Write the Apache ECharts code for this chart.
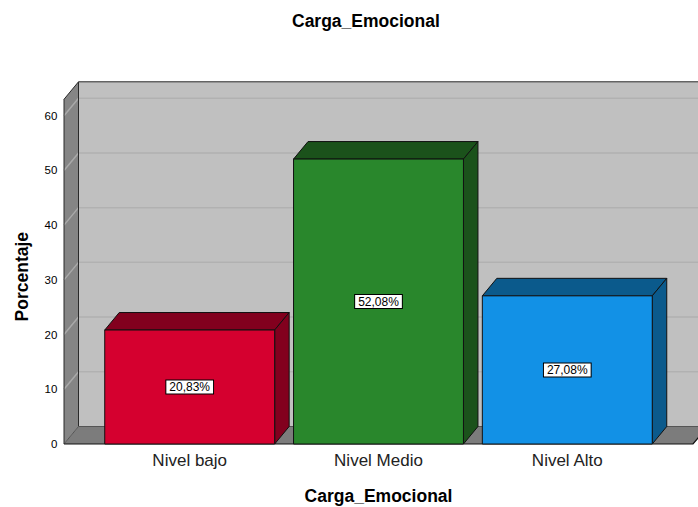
<!DOCTYPE html>
<html>
<head>
<meta charset="utf-8">
<script src="https://cdn.jsdelivr.net/npm/echarts@6/dist/echarts.min.js"></script>
<style>
  html, body { margin: 0; padding: 0; background: #fff; }
  #chart { width: 698px; height: 507px; }
</style>
</head>
<body>
<div id="chart"></div>
<script>
// ---- data ----
var categories = ['Nivel bajo', 'Nivel Medio', 'Nivel Alto'];
var percentages = [20.83, 52.08, 27.08];
var yTicks = [0, 10, 20, 30, 40, 50, 60];
var chartTitle = 'Carga_Emocional';
var xAxisName = 'Carga_Emocional';
var yAxisName = 'Porcentaje';

// ---- styles ----
var FONT = '"Liberation Sans", Arial, sans-serif';
var frontColors = ['#d5002f', '#29872c', '#1291e6'];
var darkColors = ['#82001e', '#1b521b', '#0b5a8c'];
var DX = 14.5, DY = -17.5;   // 3D depth offset (px)
var WALL_PAD = 31.3;         // floor extension beyond the category band (px)
var BAR_RATIO = 0.9;

function fmt(v) { return v.toFixed(2).replace('.', ',') + '%'; }

function renderWalls(params, api) {
  var cs = params.coordSys;
  var fl = cs.x - WALL_PAD, fr = cs.x + cs.width + WALL_PAD;
  var gt = cs.y, gb = cs.y + cs.height;
  var children = [];
  // back wall
  children.push({ type: 'polygon', shape: { points: [[fl + DX, gt + DY], [fr + DX, gt + DY], [fr + DX, gb + DY], [fl + DX, gb + DY]] },
    style: { fill: '#c0c0c0', stroke: 'none' } });
  // left wall
  children.push({ type: 'polygon', shape: { points: [[fl, gt], [fl + DX, gt + DY], [fl + DX, gb + DY], [fl, gb]] },
    style: { fill: '#858585', stroke: 'none' } });
  // grid lines
  for (var i = 0; i < yTicks.length; i++) {
    var y = api.coord([0, yTicks[i]])[1];
    if (yTicks[i] > 0) {
      children.push({ type: 'line', shape: { x1: fl + DX, y1: y + DY, x2: fr + DX, y2: y + DY },
        style: { stroke: '#b1b1b1', lineWidth: 1.5, fill: 'none' } });
      children.push({ type: 'line', shape: { x1: fl, y1: y, x2: fl + DX, y2: y + DY },
        style: { stroke: '#a9a9a9', lineWidth: 1.5, fill: 'none' } });
    }
  }
  // floor
  children.push({ type: 'polygon', shape: { points: [[fl, gb], [fl + DX, gb + DY], [fr + DX, gb + DY], [fr, gb]] },
    style: { fill: '#7c7c7c', stroke: 'none' } });
  // edges
  var edge = { stroke: '#2a2a2a', lineWidth: 1, fill: 'none' };
  children.push({ type: 'polyline', shape: { points: [[fl, gb], [fl, gt], [fl + DX, gt + DY], [fr + DX, gt + DY]] }, style: edge });
  children.push({ type: 'line', shape: { x1: fl + DX, y1: gt + DY, x2: fl + DX, y2: gb + DY }, style: edge });
  children.push({ type: 'line', shape: { x1: fl + DX, y1: gb + DY, x2: fr + DX, y2: gb + DY }, style: { stroke: '#555', lineWidth: 1, fill: 'none' } });
  children.push({ type: 'line', shape: { x1: fl, y1: gb, x2: fl + DX, y2: gb + DY }, style: { stroke: '#555', lineWidth: 1, fill: 'none' } });
  children.push({ type: 'polyline', shape: { points: [[fl, gb], [fr, gb], [fr + DX, gb + DY]] }, style: { stroke: '#111', lineWidth: 1.2, fill: 'none' } });
  return { type: 'group', children: children };
}

function renderBar(params, api) {
  var idx = api.value(0), v = api.value(1);
  var base = api.coord([idx, 0]);
  var top = api.coord([idx, v]);
  var band = api.size([1, 0])[0];
  var w = band * BAR_RATIO;
  var x0 = base[0] - w / 2, x1 = base[0] + w / 2;
  var yb = base[1], yt = top[1];
  var edge = '#111';
  return { type: 'group', children: [
    { type: 'polygon', shape: { points: [[x0, yt], [x0 + DX, yt + DY], [x1 + DX, yt + DY], [x1, yt]] },
      style: { fill: darkColors[idx], stroke: edge, lineWidth: 1 } },
    { type: 'polygon', shape: { points: [[x1, yt], [x1 + DX, yt + DY], [x1 + DX, yb + DY], [x1, yb]] },
      style: { fill: darkColors[idx], stroke: edge, lineWidth: 1 } },
    { type: 'rect', shape: { x: x0, y: yt, width: w, height: yb - yt },
      style: { fill: frontColors[idx], stroke: edge, lineWidth: 1 } },
    { type: 'text', style: { text: fmt(v), x: base[0], y: (yt + yb) / 2, align: 'center', verticalAlign: 'middle',
        fill: '#000', font: '12px ' + FONT, backgroundColor: '#fff', borderColor: '#000', borderWidth: 1,
        padding: [1, 3, 0, 3], lineHeight: 12 } }
  ] };
}

var barData = percentages.map(function (v, i) { return [i, v]; });

var chart = echarts.init(document.getElementById('chart'), null, { renderer: 'svg' });
chart.setOption({
  animation: false,
  backgroundColor: '#fff',
  title: {
    text: chartTitle, left: 287, top: 7,
    textStyle: { fontFamily: FONT, fontSize: 17.5, fontWeight: 'bold', color: '#000' }
  },
  grid: { left: 95.3, right: 36.3, top: 99.3, bottom: 63, containLabel: false, outerBoundsMode: 'none' },
  xAxis: {
    type: 'category', data: categories,
    name: xAxisName, nameLocation: 'middle', nameGap: 43,
    nameTextStyle: { fontFamily: FONT, fontSize: 17.5, fontWeight: 'bold', color: '#000' },
    axisLine: { show: false }, axisTick: { show: false },
    axisLabel: { margin: 7.5, fontFamily: FONT, fontSize: 17, color: '#222' }
  },
  yAxis: {
    type: 'value', min: 0, max: 63, interval: 10,
    name: yAxisName, nameLocation: 'middle', nameRotate: 90, nameGap: 64,
    nameTextStyle: { fontFamily: FONT, fontSize: 17.5, fontWeight: 'bold', color: '#000', padding: [0, 10, 0, 0] },
    axisLine: { show: false }, axisTick: { show: false }, splitLine: { show: false },
    axisLabel: { margin: 38, fontFamily: FONT, fontSize: 11.5, color: '#000', padding: [8, 0, 0, 0],
      formatter: function (v) { return yTicks.indexOf(v) >= 0 ? String(v) : ''; } }
  },
  series: [
    { type: 'custom', name: 'walls', renderItem: renderWalls, data: [[0, 0]], silent: true, z: 1 },
    { type: 'custom', name: 'Porcentaje', renderItem: renderBar, data: barData, z: 2 }
  ]
});
</script>
</body>
</html>
